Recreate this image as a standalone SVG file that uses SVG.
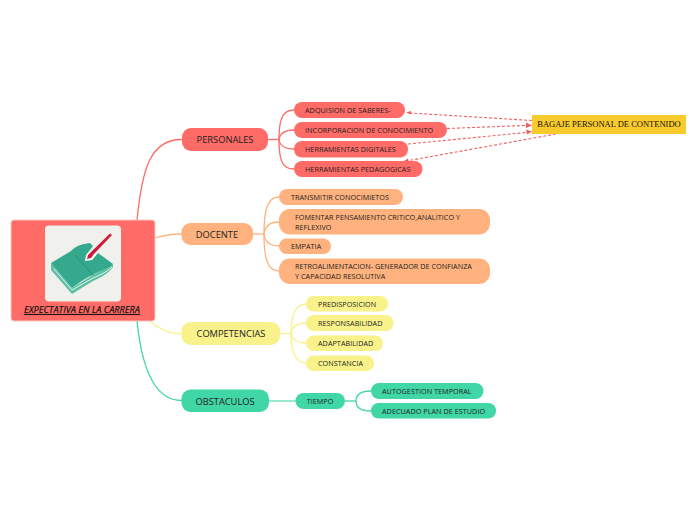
<svg xmlns="http://www.w3.org/2000/svg" width="696" height="520" viewBox="0 0 696 520">
<style>
text{font-family:"Open Sans","Noto Sans","DejaVu Sans",sans-serif;fill:#222;}
.m{font-size:9.300px;text-anchor:middle}
.s{font-size:7.200px;letter-spacing:.06px}
.c{fill:none;stroke-width:1.3}
.r{fill:#ff6b66}.o{fill:#ffb27d}.y{fill:#f9f28b}.g{fill:#41d6a5}
.cr{stroke:#ff6b66}.co{stroke:#ffb27d}.cy{stroke:#f9f28b}.cg{stroke:#41d6a5}
.d{fill:none;stroke:#f0605c;stroke-width:1.100;stroke-dasharray:3 2}
.a{fill:#f0605c}
</style>
<rect width="696" height="520" fill="#fff"/>
<g id="connectors">
<path class="c cr" d="M137 220C142 170 150 139 182 139.500"/>
<path class="c co" d="M155 238C165 235 172 234 182 234"/>
<path class="c cy" d="M150 321C160 330 170 334 182 333.500"/>
<path class="c cg" d="M137 321C142 370 155 401 182 400.500"/>
<path class="c cr" d="M268 139.500H279"/>
<path class="c cr" d="M279 139.500C279 120 282 110 294 110"/>
<path class="c cr" d="M279 139.500C280 133 285 130 294 130"/>
<path class="c cr" d="M279 139.500C280 146 285 149 294 149"/>
<path class="c cr" d="M279 139.500C279 160 282 169 294 169"/>
<path class="c co" d="M253 234H264"/>
<path class="c co" d="M264 234C264 208 268 197 279 197"/>
<path class="c co" d="M264 234C265 226 270 222 279 222"/>
<path class="c co" d="M264 234C265 242 270 246 279 246"/>
<path class="c co" d="M264 234C264 260 268 271 279 271"/>
<path class="c cy" d="M280 333.500H291"/>
<path class="c cy" d="M291 333.500C291 315 295 304 306 304"/>
<path class="c cy" d="M291 333.500C292 327 297 323 306 323"/>
<path class="c cy" d="M291 333.500C292 339 297 343 306 343"/>
<path class="c cy" d="M291 333.500C291 352 295 363 306 363"/>
<path class="c cg" opacity=".55" style="stroke-width:2" d="M269 401H296"/>
<path class="c cg" d="M345 401H356"/>
<path class="c cg" d="M371 391C361 391 356 394 356 401C356 408 361 411 371 411"/>
<path class="d" d="M532 120.500L410 113"/>
<path class="a" d="M406 112.500L411 111L411 114.500Z"/>
<path class="d" d="M447 128.500L526 125.500"/>
<path class="a" d="M532 125.500L526 122.500L526 128Z"/>
<path class="d" d="M408 144L526 132.500"/>
<path class="a" d="M532 131.500L526 129.500L527 134.500Z"/>
<path class="d" d="M556 134L409 160.500"/>
<path class="a" d="M403 161.500L408 158.500L409 162.500Z"/>
</g>
<g id="root">
<rect x="11" y="220" width="144" height="101" rx="3" class="r" stroke="#fbc4c0" stroke-width="1"/>
<rect x="45" y="225.500" width="76" height="76" rx="4" fill="#f0f0ec"/>
<path d="M51 263L51 270L72 294L93 281C100 278 108 274 113 267L113 264L93 275L72 288Z" fill="#5dbfa5"/>
<path d="M54 269L72 290L93 278C100 275 107 272 112 267" fill="none" stroke="#e4f4ee" stroke-width="1"/>
<path d="M51 263L71 251C76 246 81 244 90 243L93 246L87 254L86 260L92 260L98 253L113 264C108 269 100 270 93 275C87 277 80 282 72 288Z" fill="#34a98e"/>
<path d="M75 255L93 275" stroke="#1f7f69" stroke-width=".6" fill="none"/>
<path d="M85 261L86 255L90 251L95 252L96 255L92 260Z" fill="#fff"/>
<path d="M87 259L88 255L91 252L110 233.500L112 235L94 254L91 258Z" fill="#cc1d3d"/>
<text x="82" y="313" font-size="9.200" font-style="italic" text-anchor="middle" text-decoration="underline" stroke="#111" stroke-width=".2" style="fill:#111">EXPECTATIVA EN LA CARRERA </text>
</g>
<g id="personales"><rect x="182" y="128" width="86" height="23" rx="9" class="r"/><text x="225" y="143" class="m">PERSONALES</text></g>
<g id="docente"><rect x="181.500" y="223" width="71.500" height="22" rx="9" class="o"/><text x="217" y="238" class="m">DOCENTE</text></g>
<g id="competencias"><rect x="181.500" y="322" width="98.500" height="23" rx="9" class="y"/><text x="231" y="337" class="m">COMPETENCIAS</text></g>
<g id="obstaculos"><rect x="181.500" y="389.500" width="87.500" height="22.500" rx="9" class="g"/><text x="225" y="404.500" class="m">OBSTACULOS</text></g>
<g id="adquision"><rect x="294" y="102" width="111" height="16" rx="8" class="r"/><text x="305" y="113" class="s">ADQUISION DE SABERES-</text></g>
<g id="incorporacion"><rect x="294" y="122" width="153" height="16" rx="8" class="r"/><text x="305" y="132.500" class="s">INCORPORACION DE CONOCIMIENTO</text></g>
<g id="herramientas-digitales"><rect x="294" y="141" width="114" height="16.500" rx="8" class="r"/><text x="305" y="152" class="s">HERRAMIENTAS DIGITALES</text></g>
<g id="herramientas-pedagogicas"><rect x="294" y="161" width="128.500" height="16" rx="8" class="r"/><text x="305" y="172" class="s">HERRAMIENTAS PEDAGOGICAS</text></g>
<g id="transmitir"><rect x="279" y="189" width="124" height="16" rx="8" class="o"/><text x="291" y="200" class="s">TRANSMITIR CONOCIMIETOS</text></g>
<g id="fomentar"><rect x="279" y="209" width="211" height="25.500" rx="11" class="o"/><text x="295" y="220" class="s">FOMENTAR PENSAMIENTO CRITICO,ANALITICO Y</text><text x="295" y="229.500" class="s">REFLEXIVO</text></g>
<g id="empatia"><rect x="279" y="238.500" width="52" height="15.500" rx="7.500" class="o"/><text x="291" y="249" class="s">EMPATIA</text></g>
<g id="retroalimentacion"><rect x="279" y="258.500" width="211" height="25.500" rx="11" class="o"/><text x="295" y="269" class="s">RETROALIMENTACION- GENERADOR DE CONFIANZA</text><text x="295" y="279" class="s">Y CAPACIDAD RESOLUTIVA</text></g>
<g id="predisposicion"><rect x="306" y="296" width="82" height="15.500" rx="7.500" class="y"/><text x="318" y="306.500" class="s">PREDISPOSICION</text></g>
<g id="responsabilidad"><rect x="306" y="315" width="87.500" height="16" rx="8" class="y"/><text x="318" y="326" class="s">RESPONSABILIDAD</text></g>
<g id="adaptabilidad"><rect x="306" y="335.500" width="77" height="15.500" rx="7.500" class="y"/><text x="318" y="346" class="s">ADAPTABILIDAD</text></g>
<g id="constancia"><rect x="306" y="355.500" width="68" height="15.500" rx="7.500" class="y"/><text x="318" y="366" class="s">CONSTANCIA</text></g>
<g id="tiempo"><rect x="295.500" y="393" width="49.500" height="16" rx="8" class="g"/><text x="320" y="404" class="s" text-anchor="middle">TIEMPO</text></g>
<g id="autogestion"><rect x="371" y="383" width="112.500" height="16" rx="8" class="g"/><text x="382" y="394" class="s">AUTOGESTION TEMPORAL</text></g>
<g id="adecuado"><rect x="371" y="403" width="125" height="15.500" rx="7.500" class="g"/><text x="382" y="414" class="s">ADECUADO PLAN DE ESTUDIO</text></g>
<g id="bagaje"><rect x="532" y="115" width="154" height="19" fill="#f9ca2c"/><text x="609" y="127" font-size="8.500" text-anchor="middle" style="font-family:'Liberation Serif','Times New Roman',serif;fill:#111">BAGAJE PERSONAL DE CONTENIDO</text></g>
</svg>
